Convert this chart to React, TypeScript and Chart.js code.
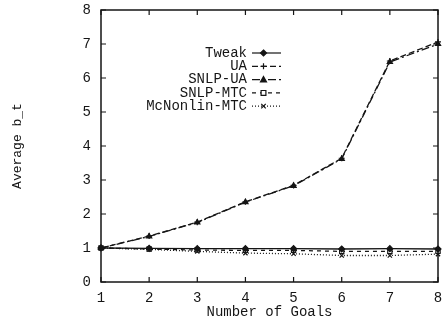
import React, { useEffect, useRef } from "react";
import { Chart, registerables } from "chart.js";

Chart.register(...registerables);

const goals = ["1", "2", "3", "4", "5", "6", "7", "8"];
const tweak = [1.0, 0.99, 0.98, 0.98, 0.98, 0.97, 0.98, 0.97];
const ua = [1.0, 1.35, 1.76, 2.36, 2.84, 3.64, 6.5, 7.06];
const snlpUa = [1.0, 1.34, 1.75, 2.35, 2.83, 3.62, 6.47, 7.0];
const snlpMtc = [1.0, 0.97, 0.94, 0.93, 0.93, 0.9, 0.9, 0.9];
const mcNonlinMtc = [1.0, 0.96, 0.9, 0.85, 0.83, 0.78, 0.78, 0.82];
const yTicks = [0, 1, 2, 3, 4, 5, 6, 7, 8];

const FONT = "'Liberation Mono', 'DejaVu Sans Mono', monospace";
const INK = "#151515";

function drawMarker(ctx: CanvasRenderingContext2D, style: string, x: number, y: number, r: number) {
  ctx.beginPath();
  if (style === "rectRot") {
    ctx.moveTo(x, y - r);
    ctx.lineTo(x + r, y);
    ctx.lineTo(x, y + r);
    ctx.lineTo(x - r, y);
    ctx.closePath();
    ctx.fill();
    ctx.stroke();
  } else if (style === "triangle") {
    ctx.moveTo(x, y - r);
    ctx.lineTo(x + r, y + r * 0.8);
    ctx.lineTo(x - r, y + r * 0.8);
    ctx.closePath();
    ctx.fill();
    ctx.stroke();
  } else if (style === "rect") {
    ctx.fillStyle = "#fff";
    ctx.rect(x - r * 0.8, y - r * 0.8, r * 1.6, r * 1.6);
    ctx.fill();
    ctx.stroke();
  } else if (style === "cross") {
    ctx.moveTo(x - r, y);
    ctx.lineTo(x + r, y);
    ctx.moveTo(x, y - r);
    ctx.lineTo(x, y + r);
    ctx.stroke();
  } else if (style === "crossRot") {
    const d = r * 0.75;
    ctx.moveTo(x - d, y - d);
    ctx.lineTo(x + d, y + d);
    ctx.moveTo(x + d, y - d);
    ctx.lineTo(x - d, y + d);
    ctx.stroke();
  }
}

const framePlugin = {
  id: "frame",
  afterDraw(chart: any) {
    const { ctx, chartArea: a, scales } = chart;
    ctx.save();
    ctx.strokeStyle = INK;
    ctx.lineWidth = 1.5;
    ctx.setLineDash([]);
    ctx.strokeRect(a.left, a.top, a.right - a.left, a.bottom - a.top);
    ctx.lineWidth = 1.2;
    const len = 5;
    const xs = scales.x;
    xs.ticks.forEach((_t: any, i: number) => {
      const px = xs.getPixelForTick(i);
      ctx.beginPath();
      ctx.moveTo(px, a.bottom);
      ctx.lineTo(px, a.bottom - len);
      ctx.moveTo(px, a.top);
      ctx.lineTo(px, a.top + len);
      ctx.stroke();
    });
    const ys = scales.y;
    ys.ticks.forEach((_t: any, i: number) => {
      const py = ys.getPixelForTick(i);
      ctx.beginPath();
      ctx.moveTo(a.left, py);
      ctx.lineTo(a.left + len, py);
      ctx.moveTo(a.right, py);
      ctx.lineTo(a.right - len, py);
      ctx.stroke();
    });
    ctx.restore();
  },
};

const legendPlugin = {
  id: "customLegend",
  afterDraw(chart: any) {
    const { ctx } = chart;
    const textRight = 247;
    const sx0 = 252;
    const sx1 = 281;
    const y0 = 53;
    const dy = 13.3;
    ctx.save();
    chart.data.datasets.forEach((ds: any, i: number) => {
      const y = y0 + i * dy;
      ctx.font = `14px ${FONT}`;
      ctx.fillStyle = INK;
      ctx.textAlign = "right";
      ctx.textBaseline = "middle";
      ctx.fillText(ds.label, textRight, y);
      ctx.strokeStyle = INK;
      ctx.lineWidth = 1.2;
      ctx.setLineDash(ds.borderDash || []);
      ctx.beginPath();
      ctx.moveTo(sx0, y);
      ctx.lineTo(sx1, y);
      ctx.stroke();
      ctx.setLineDash([]);
      ctx.fillStyle = INK;
      drawMarker(ctx, ds.pointStyle, (sx0 + sx1) / 2 - 3, y, 3);
    });
    ctx.restore();
  },
};

export default function App() {
  const ref = useRef<HTMLCanvasElement | null>(null);

  useEffect(() => {
    if (!ref.current) return;
    const mk = (label: string, data: number[], dash: number[], pointStyle: string, bg: string) => ({
      label,
      data,
      borderColor: INK,
      backgroundColor: bg,
      pointBackgroundColor: bg,
      pointBorderColor: INK,
      borderWidth: 1.3,
      borderDash: dash,
      pointStyle,
      pointRadius: 3,
      pointBorderWidth: 1.2,
      tension: 0,
      fill: false,
    });
    const chart = new Chart(ref.current, {
      type: "line",
      data: {
        labels: goals,
        datasets: [
          mk("Tweak", tweak, [], "rectRot", INK),
          mk("UA", ua, [6, 3], "cross", INK),
          mk("SNLP-UA", snlpUa, [8, 3, 2, 3], "triangle", INK),
          mk("SNLP-MTC", snlpMtc, [4, 4], "rect", "#fff"),
          mk("McNonlin-MTC", mcNonlinMtc, [1, 2], "crossRot", INK),
        ] as any,
      },
      options: {
        animation: false,
        responsive: false,
        layout: { padding: { top: 10, right: 6, left: 0, bottom: 0 } },
        plugins: {
          legend: { display: false },
          tooltip: { enabled: false },
        },
        scales: {
          x: {
            type: "category",
            offset: false,
            grid: { display: false, drawTicks: false },
            border: { display: false },
            ticks: {
              color: INK,
              font: { family: FONT, size: 14 },
              padding: 8,
              maxRotation: 0,
              autoSkip: false,
            },
            title: {
              display: true,
              text: "Number of Goals",
              color: INK,
              font: { family: FONT, size: 14 },
              padding: { top: 0, bottom: 2 },
            },
            afterFit(s: any) {
              s.height = 41;
              s.paddingLeft = 0;
              s.paddingRight = 0;
            },
          },
          y: {
            min: 0,
            max: 8,
            grid: { display: false, drawTicks: false },
            border: { display: false },
            afterBuildTicks(s: any) {
              s.ticks = yTicks.map((v) => ({ value: v }));
            },
            ticks: {
              color: INK,
              font: { family: FONT, size: 14 },
              padding: 10,
            },
            title: {
              display: true,
              text: "Average b_t",
              color: INK,
              font: { family: FONT, size: 13 },
              padding: { top: 10, bottom: 0 },
            },
            afterFit(s: any) {
              s.width = 101;
              s.paddingTop = 0;
              s.paddingBottom = 0;
            },
          },
        },
      } as any,
      plugins: [framePlugin, legendPlugin],
    });
    return () => chart.destroy();
  }, []);

  return (
    <div style={{ position: "absolute", left: 0, top: 0, width: 444, height: 323, background: "#fff" }}>
      <canvas ref={ref} width={444} height={323} />
    </div>
  );
}
